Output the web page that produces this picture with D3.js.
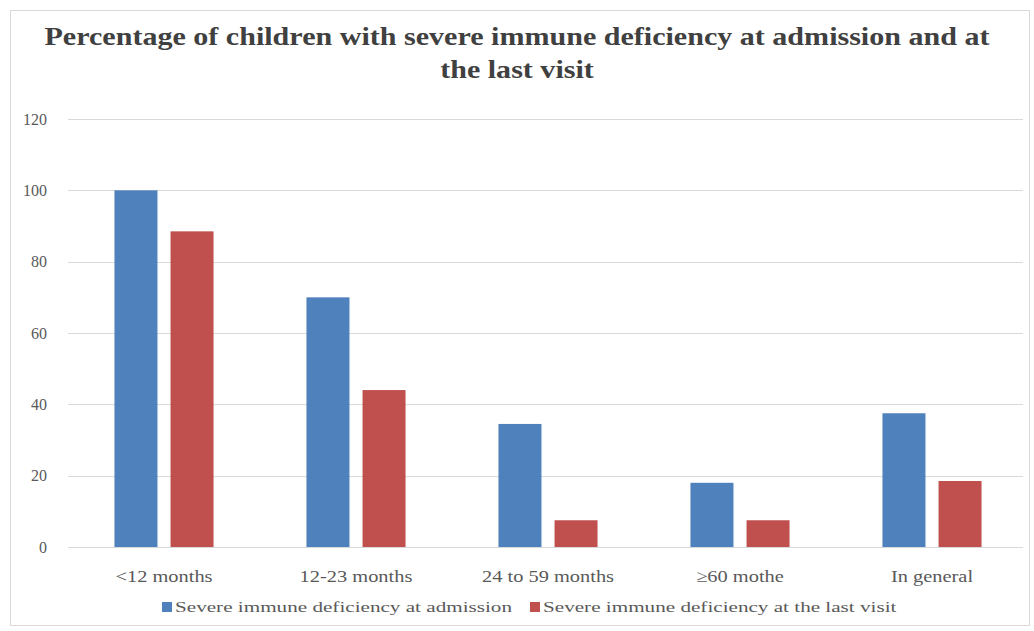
<!DOCTYPE html>
<html>
<head>
<meta charset="utf-8">
<script src="https://cdn.jsdelivr.net/npm/d3@7"></script>
<style>
  body { margin: 0; background: #fff; }
  svg { display: block; }
  text { font-family: "Liberation Serif", "Times New Roman", serif; }
</style>
</head>
<body>
<svg id="chart" width="1034" height="631"></svg>
<script>
const titleLines = ["Percentage of children with severe immune  deficiency at admission and at", "the last visit"];
const categories = ["<12 months", "12-23 months", "24 to 59 months", "\u226560 mothe", "In general"];
const seriesNames = ["Severe  immune deficiency at admission", "Severe  immune deficiency at the last visit"];
const admission = [100, 70, 34.5, 18, 37.5];
const lastVisit = [88.5, 44, 7.5, 7.5, 18.5];
const yTicks = [0, 20, 40, 60, 80, 100, 120];
const colors = ["#4F81BD", "#C0504D"];

const svg = d3.select("#chart");
const W = 1034, H = 631;

function stretch(sel, factor) {
  sel.each(function () {
    const w = this.getComputedTextLength();
    d3.select(this).attr("textLength", w * factor).attr("lengthAdjust", "spacingAndGlyphs");
  });
}

// outer frame
svg.append("rect").attr("x", 10.5).attr("y", 10.5).attr("width", W - 15).attr("height", H - 16)
  .attr("fill", "#fff").attr("stroke", "#d9d9d9");

const plot = { left: 68, right: 1028, top: 119, bottom: 547 };

const x0 = d3.scaleBand().domain(categories).range([plot.left, plot.right]).paddingInner(0).paddingOuter(0);
const y = d3.scaleLinear().domain([0, 120]).range([plot.bottom, plot.top]);

// grid
svg.append("g").selectAll("line").data(yTicks).join("line")
  .attr("x1", plot.left).attr("x2", plot.right - 5)
  .attr("y1", d => Math.round(y(d)) + 0.5).attr("y2", d => Math.round(y(d)) + 0.5)
  .attr("stroke", "#d9d9d9").attr("stroke-width", 1.2);

// y axis labels
const yAxis = d3.axisLeft(y).tickValues(yTicks).tickSize(0).tickPadding(0);
const yg = svg.append("g").attr("transform", `translate(47,0)`).call(yAxis);
yg.select(".domain").remove();
yg.selectAll("text").attr("font-size", 16).attr("fill", "#595959")
  .attr("font-family", "Liberation Serif, serif");

// bars
const data = categories.map((c, i) => ({ cat: c, vals: [admission[i], lastVisit[i]] }));
const step = x0.bandwidth();
const barW = step * 0.224;
const gap = step * 0.068;
const x1 = d3.scaleBand().domain([0, 1]).range([0, 2 * barW + gap]).paddingInner(gap / (barW + gap));
const groups = svg.append("g").selectAll("g").data(data).join("g")
  .attr("transform", d => `translate(${x0(d.cat) + step / 2 - (2 * barW + gap) / 2},0)`);
groups.selectAll("rect").data(d => d.vals.map((v, k) => ({ v, k }))).join("rect")
  .attr("x", d => x1(d.k)).attr("width", x1.bandwidth())
  .attr("y", d => y(d.v)).attr("height", d => y(0) - y(d.v))
  .attr("fill", d => colors[d.k]);

// x axis labels
const xAxis = d3.axisBottom(x0).tickSize(0).tickPadding(0);
const xg = svg.append("g").attr("transform", `translate(0,${plot.bottom + 23})`).call(xAxis);
xg.select(".domain").remove();
const xt = xg.selectAll("text").attr("font-size", 17).attr("fill", "#595959")
  .attr("font-family", "Liberation Serif, serif");
stretch(xt, 1.2);

// title
const tt = svg.append("g").selectAll("text").data(titleLines).join("text")
  .attr("x", 517).attr("y", (d, i) => 45 + i * 33)
  .attr("text-anchor", "middle").attr("font-size", 25).attr("font-weight", "bold")
  .attr("fill", "#404040")
  .text(d => d);
const t0w = tt.nodes()[0].getComputedTextLength();
stretch(tt, 945 / t0w);

// legend
const legendX = [162, 530];
const lg = svg.append("g").selectAll("g").data(seriesNames).join("g")
  .attr("transform", (d, i) => `translate(${legendX[i]},607)`);
lg.append("rect").attr("x", 0).attr("y", -5).attr("width", 10).attr("height", 10)
  .attr("fill", (d, i) => colors[i]);
const lt = lg.append("text").attr("x", 13).attr("y", 5).attr("font-size", 15).attr("fill", "#595959")
  .text(d => d);
const l0w = lt.nodes()[0].getComputedTextLength();
stretch(lt, 337 / l0w);
</script>
</body>
</html>
